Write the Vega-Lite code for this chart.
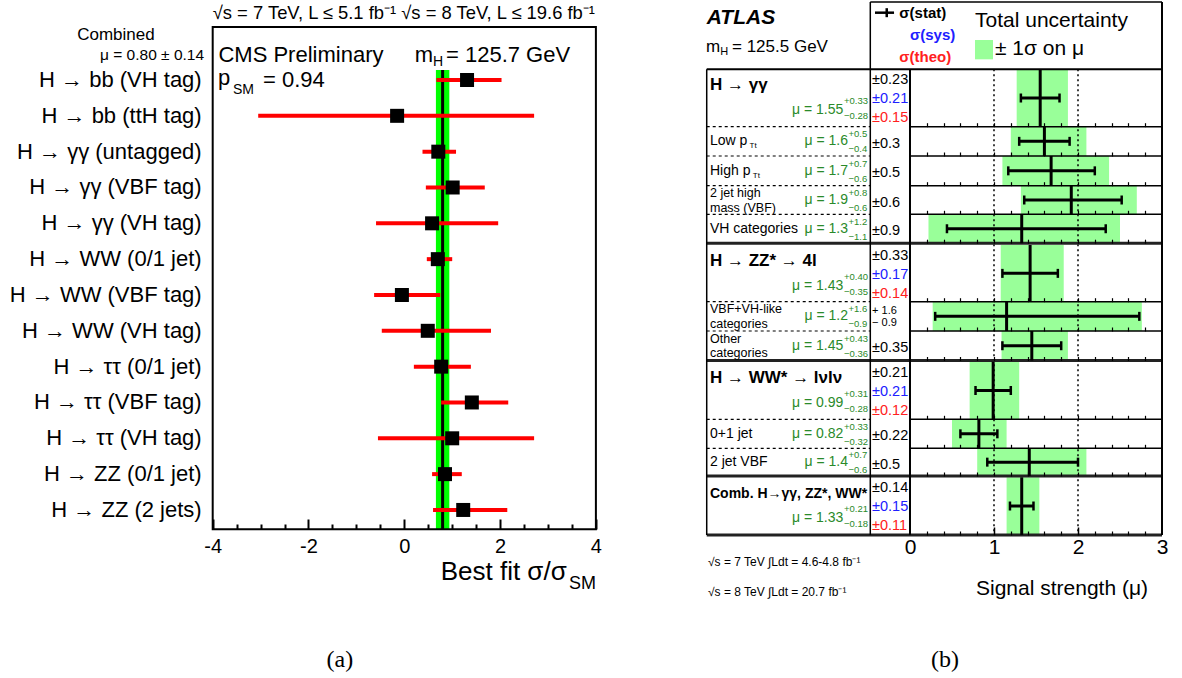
{
"$schema":"https://vega.github.io/schema/vega-lite/v6.json",
"width":1182,"height":678,
"autosize":{"type":"fit","contains":"padding"},
"padding":0,
"background":"white",
"config":{"view":{"stroke":null},"font":"Liberation Sans","text":{"font":"Liberation Sans","baseline":"middle","color":"black"}},
"datasets":{
"one":[{}],
"cms":[
{"i":0,"name":"H → bb (VH tag)","mu":1.31,"lo":0.67,"hi":2.03},
{"i":1,"name":"H → bb (ttH tag)","mu":-0.15,"lo":-3.05,"hi":2.71},
{"i":2,"name":"H → γγ (untagged)","mu":0.71,"lo":0.38,"hi":1.08},
{"i":3,"name":"H → γγ (VBF tag)","mu":1.01,"lo":0.45,"hi":1.68},
{"i":4,"name":"H → γγ (VH tag)","mu":0.58,"lo":-0.59,"hi":1.96},
{"i":5,"name":"H → WW (0/1 jet)","mu":0.7,"lo":0.47,"hi":1.0},
{"i":6,"name":"H → WW (VBF tag)","mu":-0.05,"lo":-0.63,"hi":0.75},
{"i":7,"name":"H → WW (VH tag)","mu":0.49,"lo":-0.47,"hi":1.81},
{"i":8,"name":"H → ττ (0/1 jet)","mu":0.77,"lo":0.2,"hi":1.39},
{"i":9,"name":"H → ττ (VBF tag)","mu":1.41,"lo":0.77,"hi":2.17},
{"i":10,"name":"H → ττ (VH tag)","mu":1.0,"lo":-0.55,"hi":2.71},
{"i":11,"name":"H → ZZ (0/1 jet)","mu":0.85,"lo":0.58,"hi":1.2},
{"i":12,"name":"H → ZZ (2 jets)","mu":1.23,"lo":0.6,"hi":2.15}
],
"atlas":[
{"id":"yy","kind":"main","sep":false,"top":2.365,"bot":4.324,"mid":3.345,"mu":1.55,"tlo":1.27,"thi":1.88,"slo":1.32,"shi":1.78,"lab1":"H → γγ","mutxt":"μ = 1.55","up":"+0.33","dn":"−0.28","stat":"±0.23","sys":"±0.21","theo":"±0.15"},
{"id":"yy_low","kind":"sub","sep":false,"top":4.324,"bot":5.324,"mid":4.824,"mu":1.6,"tlo":1.2,"thi":2.1,"slo":1.3,"shi":1.9,"lab1":"Low p","lsub":"Tt","mutxt":"μ = 1.6","up":"+0.5","dn":"−0.4","stat":"±0.3"},
{"id":"yy_high","kind":"sub","sep":false,"top":5.324,"bot":6.338,"mid":5.831,"mu":1.68,"tlo":1.1,"thi":2.37,"slo":1.17,"shi":2.2,"lab1":"High p","lsub":"Tt","mutxt":"μ = 1.7","up":"+0.7","dn":"−0.6","stat":"±0.5"},
{"id":"yy_vbf","kind":"sub","sep":false,"top":6.338,"bot":7.314,"mid":6.826,"mu":1.92,"tlo":1.32,"thi":2.7,"slo":1.36,"shi":2.52,"lab1":"2 jet high","lab2":"mass (VBF)","mutxt":"μ = 1.9","up":"+0.8","dn":"−0.6","stat":"±0.6"},
{"id":"yy_vh","kind":"sub","sep":true,"top":7.314,"bot":8.3,"mid":7.807,"mu":1.33,"tlo":0.22,"thi":2.5,"slo":0.44,"shi":2.33,"lab1":"VH categories","mutxt":"μ = 1.3","up":"+1.2","dn":"−1.1","stat":"±0.9"},
{"id":"zz","kind":"main","sep":false,"top":8.362,"bot":10.297,"mid":9.33,"mu":1.43,"tlo":1.08,"thi":1.83,"slo":1.1,"shi":1.76,"lab1":"H → ZZ* → 4l","mutxt":"μ = 1.43","up":"+0.40","dn":"−0.35","stat":"±0.33","sys":"±0.17","theo":"±0.14"},
{"id":"zz_vbf","kind":"sub","sep":false,"top":10.297,"bot":11.297,"mid":10.797,"mu":1.15,"tlo":0.27,"thi":2.76,"slo":0.3,"shi":2.73,"lab1":"VBF+VH-like","lab2":"categories","mutxt":"μ = 1.2","up":"+1.6","dn":"−0.9","statup":"+ 1.6","statdn":"− 0.9"},
{"id":"zz_other","kind":"sub","sep":true,"top":11.297,"bot":12.304,"mid":11.8,"mu":1.45,"tlo":1.09,"thi":1.88,"slo":1.1,"shi":1.8,"lab1":"Other","lab2":"categories","mutxt":"μ = 1.45","up":"+0.43","dn":"−0.36","stat":"±0.35"},
{"id":"ww","kind":"main","sep":false,"top":12.345,"bot":14.311,"mid":13.328,"mu":0.99,"tlo":0.71,"thi":1.3,"slo":0.78,"shi":1.2,"lab1":"H → WW* → lνlν","mutxt":"μ = 0.99","up":"+0.31","dn":"−0.28","stat":"±0.21","sys":"±0.21","theo":"±0.12"},
{"id":"ww_01","kind":"sub","sep":false,"top":14.311,"bot":15.3,"mid":14.806,"mu":0.82,"tlo":0.5,"thi":1.15,"slo":0.6,"shi":1.04,"lab1":"0+1 jet","mutxt":"μ = 0.82","up":"+0.33","dn":"−0.32","stat":"±0.22"},
{"id":"ww_vbf","kind":"sub","sep":true,"top":15.3,"bot":16.246,"mid":15.773,"mu":1.42,"tlo":0.8,"thi":2.1,"slo":0.92,"shi":2.0,"lab1":"2 jet VBF","mutxt":"μ = 1.4","up":"+0.7","dn":"−0.6","stat":"±0.5"},
{"id":"comb","kind":"main","sep":true,"top":16.29,"bot":18.259,"mid":17.27,"mu":1.33,"tlo":1.15,"thi":1.54,"slo":1.19,"shi":1.47,"lab1":"Comb. H→γγ, ZZ*, WW*","mutxt":"μ = 1.33","up":"+0.21","dn":"−0.18","stat":"±0.14","sys":"±0.15","theo":"±0.11"}
]
},
"layer":[
{"layer":[
{"data":{"name":"one"},"mark":{"type":"rect","color":"#00ff00"},"encoding":{
"x":{"datum":0.66,"type":"quantitative","scale":{"domain":[-8.4405,16.236],"nice":false,"zero":false},"axis":null},"x2":{"datum":0.94},
"y":{"datum":-0.28,"type":"quantitative","scale":{"domain":[-2.2328,16.69],"nice":false,"zero":false,"reverse":true},"axis":null},"y2":{"datum":12.539}}},
{"data":{"name":"one"},"mark":{"type":"rule","color":"black","strokeWidth":3},"encoding":{
"x":{"datum":0.8,"type":"quantitative","scale":{"domain":[-8.4405,16.236],"nice":false,"zero":false},"axis":null},
"y":{"datum":-0.28,"type":"quantitative","scale":{"domain":[-2.2328,16.69],"nice":false,"zero":false,"reverse":true},"axis":null},"y2":{"datum":12.539}}},
{"data":{"name":"cms"},"mark":{"type":"rule","color":"#ff0000","strokeWidth":4},"encoding":{
"x":{"field":"lo","type":"quantitative","scale":{"domain":[-8.4405,16.236],"nice":false,"zero":false},"axis":null},
"x2":{"field":"hi"},
"y":{"field":"i","type":"quantitative","scale":{"domain":[-2.2328,16.69],"nice":false,"zero":false,"reverse":true},"axis":null}}},
{"data":{"name":"cms"},"mark":{"type":"point","shape":"square","filled":true,"color":"black","size":196,"opacity":1},"encoding":{
"x":{"field":"mu","type":"quantitative","scale":{"domain":[-8.4405,16.236],"nice":false,"zero":false},"axis":null},
"y":{"field":"i","type":"quantitative","scale":{"domain":[-2.2328,16.69],"nice":false,"zero":false,"reverse":true},"axis":null}}},
{"data":{"name":"one"},"mark":{"type":"rect","filled":false,"color":"black","strokeWidth":2},"encoding":{
"x":{"datum":-4,"type":"quantitative","scale":{"domain":[-8.4405,16.236],"nice":false,"zero":false},"axis":null},"x2":{"datum":4},
"y":{"datum":-1.479,"type":"quantitative","scale":{"domain":[-2.2328,16.69],"nice":false,"zero":false,"reverse":true},"axis":null},"y2":{"datum":12.539}}},
{"data":{"name":"cms"},"mark":{"type":"text","align":"right","fontSize":22},"encoding":{
"x":{"datum":-4.23,"type":"quantitative","scale":{"domain":[-8.4405,16.236],"nice":false,"zero":false},"axis":null},
"y":{"field":"i","type":"quantitative","scale":{"domain":[-2.2328,16.69],"nice":false,"zero":false,"reverse":true},"axis":null},
"text":{"field":"name"}}},
{"data":{"name":"one"},"mark":{"type":"text","align":"center","fontSize":17},"encoding":{
"x":{"datum":-6.02,"type":"quantitative","scale":{"domain":[-8.4405,16.236],"nice":false,"zero":false},"axis":null},
"y":{"datum":-1.256,"type":"quantitative","scale":{"domain":[-2.2328,16.69],"nice":false,"zero":false,"reverse":true},"axis":null},
"text":{"value":"Combined"}}},
{"data":{"name":"one"},"mark":{"type":"text","align":"right","fontSize":15.5},"encoding":{
"x":{"datum":-4.18,"type":"quantitative","scale":{"domain":[-8.4405,16.236],"nice":false,"zero":false},"axis":null},
"y":{"datum":-0.698,"type":"quantitative","scale":{"domain":[-2.2328,16.69],"nice":false,"zero":false,"reverse":true},"axis":null},
"text":{"value":"μ = 0.80 ± 0.14"}}},
{"data":{"name":"one"},"mark":{"type":"text","align":"left","fontSize":22},"encoding":{
"x":{"datum":-3.88,"type":"quantitative","scale":{"domain":[-8.4405,16.236],"nice":false,"zero":false},"axis":null},
"y":{"datum":-0.7,"type":"quantitative","scale":{"domain":[-2.2328,16.69],"nice":false,"zero":false,"reverse":true},"axis":null},
"text":{"value":"CMS Preliminary"}}},
{"data":{"name":"one"},"mark":{"type":"text","align":"left","fontSize":22},"encoding":{
"x":{"datum":0.22,"type":"quantitative","scale":{"domain":[-8.4405,16.236],"nice":false,"zero":false},"axis":null},
"y":{"datum":-0.7,"type":"quantitative","scale":{"domain":[-2.2328,16.69],"nice":false,"zero":false,"reverse":true},"axis":null},
"text":{"value":"m"}}},
{"data":{"name":"one"},"mark":{"type":"text","align":"left","fontSize":14},"encoding":{
"x":{"datum":0.6,"type":"quantitative","scale":{"domain":[-8.4405,16.236],"nice":false,"zero":false},"axis":null},
"y":{"datum":-0.49,"type":"quantitative","scale":{"domain":[-2.2328,16.69],"nice":false,"zero":false,"reverse":true},"axis":null},
"text":{"value":"H"}}},
{"data":{"name":"one"},"mark":{"type":"text","align":"left","fontSize":22},"encoding":{
"x":{"datum":0.87,"type":"quantitative","scale":{"domain":[-8.4405,16.236],"nice":false,"zero":false},"axis":null},
"y":{"datum":-0.7,"type":"quantitative","scale":{"domain":[-2.2328,16.69],"nice":false,"zero":false,"reverse":true},"axis":null},
"text":{"value":"= 125.7 GeV"}}},
{"data":{"name":"one"},"mark":{"type":"text","align":"left","fontSize":22},"encoding":{
"x":{"datum":-3.89,"type":"quantitative","scale":{"domain":[-8.4405,16.236],"nice":false,"zero":false},"axis":null},
"y":{"datum":-0.05,"type":"quantitative","scale":{"domain":[-2.2328,16.69],"nice":false,"zero":false,"reverse":true},"axis":null},
"text":{"value":"p"}}},
{"data":{"name":"one"},"mark":{"type":"text","align":"left","fontSize":14},"encoding":{
"x":{"datum":-3.576,"type":"quantitative","scale":{"domain":[-8.4405,16.236],"nice":false,"zero":false},"axis":null},
"y":{"datum":0.28,"type":"quantitative","scale":{"domain":[-2.2328,16.69],"nice":false,"zero":false,"reverse":true},"axis":null},
"text":{"value":"SM"}}},
{"data":{"name":"one"},"mark":{"type":"text","align":"left","fontSize":22},"encoding":{
"x":{"datum":-2.95,"type":"quantitative","scale":{"domain":[-8.4405,16.236],"nice":false,"zero":false},"axis":null},
"y":{"datum":0,"type":"quantitative","scale":{"domain":[-2.2328,16.69],"nice":false,"zero":false,"reverse":true},"axis":null},
"text":{"value":"= 0.94"}}},
{"data":{"name":"one"},"mark":{"type":"text","align":"left","fontSize":18.4},"encoding":{
"x":{"datum":-4,"type":"quantitative","scale":{"domain":[-8.4405,16.236],"nice":false,"zero":false},"axis":null},
"y":{"datum":-1.87,"type":"quantitative","scale":{"domain":[-2.2328,16.69],"nice":false,"zero":false,"reverse":true},"axis":null},
"text":{"value":"√s = 7 TeV, L ≤ 5.1 fb⁻¹  √s = 8 TeV, L ≤ 19.6 fb⁻¹"}}},
{"data":{"name":"one"},"mark":{"type":"text","align":"right","fontSize":26},"encoding":{
"x":{"datum":3.39,"type":"quantitative","scale":{"domain":[-8.4405,16.236],"nice":false,"zero":false},"axis":null},
"y":{"datum":13.74,"type":"quantitative","scale":{"domain":[-2.2328,16.69],"nice":false,"zero":false,"reverse":true},"axis":null},
"text":{"value":"Best fit σ/σ"}}},
{"data":{"name":"one"},"mark":{"type":"text","align":"right","fontSize":18},"encoding":{
"x":{"datum":4.0,"type":"quantitative","scale":{"domain":[-8.4405,16.236],"nice":false,"zero":false},"axis":null},
"y":{"datum":14.06,"type":"quantitative","scale":{"domain":[-2.2328,16.69],"nice":false,"zero":false,"reverse":true},"axis":null},
"text":{"value":"SM"}}},
{"data":{"name":"one"},"mark":{"type":"text","align":"center","fontSize":24,"font":"Liberation Serif"},"encoding":{
"x":{"datum":-1.344,"type":"quantitative","scale":{"domain":[-8.4405,16.236],"nice":false,"zero":false},"axis":null},
"y":{"datum":16.19,"type":"quantitative","scale":{"domain":[-2.2328,16.69],"nice":false,"zero":false,"reverse":true},"axis":null},
"text":{"value":"(a)"}}}
]},
{"data":{"name":"one"},"mark":{"type":"point","opacity":0},"encoding":{"x":{"datum":0,"type":"quantitative","scale":{"domain":[-8.4405,16.236],"nice":false,"zero":false},
"axis":{"orient":"bottom","offset":-149,"zindex":1,"values":[-4,-2,0,2,4],"tickSize":-10,"tickWidth":2,"tickColor":"black","domain":false,"grid":false,"labels":false,"title":null}}}},
{"data":{"name":"one"},"mark":{"type":"point","opacity":0},"encoding":{"x":{"datum":0,"type":"quantitative","scale":{"domain":[-8.4405,16.236],"nice":false,"zero":false},
"axis":{"orient":"bottom","offset":-149,"zindex":1,"values":[-3.5,-3,-2.5,-1.5,-1,-0.5,0.5,1,1.5,2.5,3,3.5],"tickSize":-5,"tickWidth":2,"tickColor":"black","domain":false,"grid":false,"labels":false,"title":null}}}},
{"data":{"name":"one"},"mark":{"type":"point","opacity":0},"encoding":{"x":{"datum":0,"type":"quantitative","scale":{"domain":[-8.4405,16.236],"nice":false,"zero":false},
"axis":{"orient":"bottom","offset":-149,"zindex":1,"values":[-4,-2,0,2,4],"ticks":false,"domain":false,"grid":false,"labelExpr":"toString(datum.value)","labelFontSize":20,"labelFont":"Liberation Sans","labelColor":"black","labelPadding":17,"labelBaseline":"middle","labelOverlap":false,"labelFlush":false,"title":null}}}},
{"layer":[
{"data":{"name":"atlas"},"mark":{"type":"rect","color":"#99ff99"},"encoding":{
"x":{"field":"tlo","type":"quantitative","scale":{"domain":[-10.8333,3.2381],"nice":false,"zero":false},"axis":null},"x2":{"field":"thi"},
"y":{"field":"top","type":"quantitative","scale":{"domain":[0,23.1399],"nice":false,"zero":false,"reverse":true},"axis":null},"y2":{"field":"bot"}}},
{"data":{"name":"one"},"mark":{"type":"rect","color":"#99ff99"},"encoding":{
"x":{"datum":0.774,"type":"quantitative","scale":{"domain":[-10.8333,3.2381],"nice":false,"zero":false},"axis":null},"x2":{"datum":0.988},
"y":{"datum":1.365,"type":"quantitative","scale":{"domain":[0,23.1399],"nice":false,"zero":false,"reverse":true},"axis":null},"y2":{"datum":2.025}}},
{"data":{"values":[{"ref":1},{"ref":2}]},"mark":{"type":"rule","color":"black","strokeWidth":1.5,"strokeDash":[2,3]},"encoding":{
"x":{"field":"ref","type":"quantitative","scale":{"domain":[-10.8333,3.2381],"nice":false,"zero":false},"axis":null},
"y":{"datum":2.365,"type":"quantitative","scale":{"domain":[0,23.1399],"nice":false,"zero":false,"reverse":true},"axis":null},"y2":{"datum":18.259}}},
{"data":{"name":"atlas"},"mark":{"type":"rule","color":"black","strokeWidth":1.5},"encoding":{
"x":{"datum":0,"type":"quantitative","scale":{"domain":[-10.8333,3.2381],"nice":false,"zero":false},"axis":null},"x2":{"datum":3},
"y":{"field":"bot","type":"quantitative","scale":{"domain":[0,23.1399],"nice":false,"zero":false,"reverse":true},"axis":null}}},
{"data":{"name":"atlas"},"transform":[{"filter":"!datum.sep"}],"mark":{"type":"rule","color":"black","strokeWidth":1.2,"strokeDash":[3,3]},"encoding":{
"x":{"datum":-2.42,"type":"quantitative","scale":{"domain":[-10.8333,3.2381],"nice":false,"zero":false},"axis":null},"x2":{"datum":-0.4726},
"y":{"field":"bot","type":"quantitative","scale":{"domain":[0,23.1399],"nice":false,"zero":false,"reverse":true},"axis":null}}},
{"data":{"name":"atlas"},"transform":[{"filter":"datum.sep"}],"mark":{"type":"rule","color":"#222222","strokeWidth":3},"encoding":{
"x":{"datum":-2.42,"type":"quantitative","scale":{"domain":[-10.8333,3.2381],"nice":false,"zero":false},"axis":null},"x2":{"datum":3},
"y":{"field":"bot","type":"quantitative","scale":{"domain":[0,23.1399],"nice":false,"zero":false,"reverse":true},"axis":null}}},
{"data":{"name":"one"},"mark":{"type":"rule","color":"black","strokeWidth":1.5},"encoding":{
"x":{"datum":-0.4726,"type":"quantitative","scale":{"domain":[-10.8333,3.2381],"nice":false,"zero":false},"axis":null},"x2":{"datum":3},
"y":{"datum":0.068,"type":"quantitative","scale":{"domain":[0,23.1399],"nice":false,"zero":false,"reverse":true},"axis":null}}},
{"data":{"name":"one"},"mark":{"type":"rule","color":"black","strokeWidth":2},"encoding":{
"x":{"datum":-2.42,"type":"quantitative","scale":{"domain":[-10.8333,3.2381],"nice":false,"zero":false},"axis":null},"x2":{"datum":3},
"y":{"datum":2.365,"type":"quantitative","scale":{"domain":[0,23.1399],"nice":false,"zero":false,"reverse":true},"axis":null}}},
{"data":{"name":"one"},"mark":{"type":"rule","color":"black","strokeWidth":1.5},"encoding":{
"x":{"datum":-2.42,"type":"quantitative","scale":{"domain":[-10.8333,3.2381],"nice":false,"zero":false},"axis":null},
"y":{"datum":2.365,"type":"quantitative","scale":{"domain":[0,23.1399],"nice":false,"zero":false,"reverse":true},"axis":null},"y2":{"datum":18.259}}},
{"data":{"name":"one"},"mark":{"type":"rule","color":"black","strokeWidth":1.5},"encoding":{
"x":{"datum":-0.4726,"type":"quantitative","scale":{"domain":[-10.8333,3.2381],"nice":false,"zero":false},"axis":null},
"y":{"datum":0.068,"type":"quantitative","scale":{"domain":[0,23.1399],"nice":false,"zero":false,"reverse":true},"axis":null},"y2":{"datum":18.259}}},
{"data":{"name":"one"},"mark":{"type":"rule","color":"black","strokeWidth":2},"encoding":{
"x":{"datum":0,"type":"quantitative","scale":{"domain":[-10.8333,3.2381],"nice":false,"zero":false},"axis":null},
"y":{"datum":2.365,"type":"quantitative","scale":{"domain":[0,23.1399],"nice":false,"zero":false,"reverse":true},"axis":null},"y2":{"datum":18.259}}},
{"data":{"name":"one"},"mark":{"type":"rule","color":"black","strokeWidth":2},"encoding":{
"x":{"datum":3,"type":"quantitative","scale":{"domain":[-10.8333,3.2381],"nice":false,"zero":false},"axis":null},
"y":{"datum":0.068,"type":"quantitative","scale":{"domain":[0,23.1399],"nice":false,"zero":false,"reverse":true},"axis":null},"y2":{"datum":18.259}}},
{"data":{"name":"atlas"},"mark":{"type":"rule","color":"black","strokeWidth":3},"encoding":{
"x":{"field":"mu","type":"quantitative","scale":{"domain":[-10.8333,3.2381],"nice":false,"zero":false},"axis":null},
"y":{"field":"top","type":"quantitative","scale":{"domain":[0,23.1399],"nice":false,"zero":false,"reverse":true},"axis":null},"y2":{"field":"bot"}}},
{"data":{"name":"atlas"},"mark":{"type":"rule","color":"black","strokeWidth":3},"encoding":{
"x":{"field":"slo","type":"quantitative","scale":{"domain":[-10.8333,3.2381],"nice":false,"zero":false},"axis":null},"x2":{"field":"shi"},
"y":{"field":"mid","type":"quantitative","scale":{"domain":[0,23.1399],"nice":false,"zero":false,"reverse":true},"axis":null}}},
{"data":{"name":"atlas"},"mark":{"type":"tick","orient":"vertical","color":"black","size":9,"thickness":2.5,"opacity":1},"encoding":{
"x":{"field":"slo","type":"quantitative","scale":{"domain":[-10.8333,3.2381],"nice":false,"zero":false},"axis":null},
"y":{"field":"mid","type":"quantitative","scale":{"domain":[0,23.1399],"nice":false,"zero":false,"reverse":true},"axis":null}}},
{"data":{"name":"atlas"},"mark":{"type":"tick","orient":"vertical","color":"black","size":9,"thickness":2.5,"opacity":1},"encoding":{
"x":{"field":"shi","type":"quantitative","scale":{"domain":[-10.8333,3.2381],"nice":false,"zero":false},"axis":null},
"y":{"field":"mid","type":"quantitative","scale":{"domain":[0,23.1399],"nice":false,"zero":false,"reverse":true},"axis":null}}},
{"data":{"name":"one"},"mark":{"type":"rule","color":"black","strokeWidth":2.5},"encoding":{
"x":{"datum":-0.4167,"type":"quantitative","scale":{"domain":[-10.8333,3.2381],"nice":false,"zero":false},"axis":null},"x2":{"datum":-0.19},
"y":{"datum":0.433,"type":"quantitative","scale":{"domain":[0,23.1399],"nice":false,"zero":false,"reverse":true},"axis":null}}},
{"data":{"name":"one"},"mark":{"type":"tick","orient":"vertical","color":"black","size":9,"thickness":2.5,"opacity":1},"encoding":{
"x":{"datum":-0.277,"type":"quantitative","scale":{"domain":[-10.8333,3.2381],"nice":false,"zero":false},"axis":null},
"y":{"datum":0.433,"type":"quantitative","scale":{"domain":[0,23.1399],"nice":false,"zero":false,"reverse":true},"axis":null}}},
{"data":{"name":"atlas"},"transform":[{"filter":"datum.kind=='main' && datum.id!='comb'"}],"mark":{"type":"text","align":"left","fontSize":17,"fontWeight":"bold","dy":16},"encoding":{
"x":{"datum":-2.381,"type":"quantitative","scale":{"domain":[-10.8333,3.2381],"nice":false,"zero":false},"axis":null},
"y":{"field":"top","type":"quantitative","scale":{"domain":[0,23.1399],"nice":false,"zero":false,"reverse":true},"axis":null},"text":{"field":"lab1"}}},
{"data":{"name":"atlas"},"transform":[{"filter":"datum.id=='comb'"}],"mark":{"type":"text","align":"left","fontSize":14,"fontWeight":"bold","dy":17},"encoding":{
"x":{"datum":-2.381,"type":"quantitative","scale":{"domain":[-10.8333,3.2381],"nice":false,"zero":false},"axis":null},
"y":{"field":"top","type":"quantitative","scale":{"domain":[0,23.1399],"nice":false,"zero":false,"reverse":true},"axis":null},"text":{"field":"lab1"}}},
{"data":{"name":"atlas"},"transform":[{"filter":"datum.kind=='sub' && !datum.lab2"}],"mark":{"type":"text","align":"left","fontSize":14},"encoding":{
"x":{"datum":-2.381,"type":"quantitative","scale":{"domain":[-10.8333,3.2381],"nice":false,"zero":false},"axis":null},
"y":{"field":"mid","type":"quantitative","scale":{"domain":[0,23.1399],"nice":false,"zero":false,"reverse":true},"axis":null},"text":{"field":"lab1"}}},
{"data":{"name":"atlas"},"transform":[{"filter":"datum.lab2"}],"mark":{"type":"text","align":"left","fontSize":12.5,"dy":-7},"encoding":{
"x":{"datum":-2.381,"type":"quantitative","scale":{"domain":[-10.8333,3.2381],"nice":false,"zero":false},"axis":null},
"y":{"field":"mid","type":"quantitative","scale":{"domain":[0,23.1399],"nice":false,"zero":false,"reverse":true},"axis":null},"text":{"field":"lab1"}}},
{"data":{"name":"atlas"},"transform":[{"filter":"datum.lab2"}],"mark":{"type":"text","align":"left","fontSize":12.5,"dy":7.5},"encoding":{
"x":{"datum":-2.381,"type":"quantitative","scale":{"domain":[-10.8333,3.2381],"nice":false,"zero":false},"axis":null},
"y":{"field":"mid","type":"quantitative","scale":{"domain":[0,23.1399],"nice":false,"zero":false,"reverse":true},"axis":null},"text":{"field":"lab2"}}},
{"data":{"name":"atlas"},"transform":[{"filter":"datum.id=='yy_low'"}],"mark":{"type":"text","align":"left","fontSize":8,"dy":5},"encoding":{
"x":{"datum":-1.91,"type":"quantitative","scale":{"domain":[-10.8333,3.2381],"nice":false,"zero":false},"axis":null},
"y":{"field":"mid","type":"quantitative","scale":{"domain":[0,23.1399],"nice":false,"zero":false,"reverse":true},"axis":null},"text":{"field":"lsub"}}},
{"data":{"name":"atlas"},"transform":[{"filter":"datum.id=='yy_high'"}],"mark":{"type":"text","align":"left","fontSize":8,"dy":5},"encoding":{
"x":{"datum":-1.872,"type":"quantitative","scale":{"domain":[-10.8333,3.2381],"nice":false,"zero":false},"axis":null},
"y":{"field":"mid","type":"quantitative","scale":{"domain":[0,23.1399],"nice":false,"zero":false,"reverse":true},"axis":null},"text":{"field":"lsub"}}},
{"data":{"name":"atlas"},"transform":[{"filter":"datum.kind=='main'"}],"mark":{"type":"text","align":"right","fontSize":14,"color":"#2a8a2a","dy":41},"encoding":{
"x":{"datum":-0.794,"type":"quantitative","scale":{"domain":[-10.8333,3.2381],"nice":false,"zero":false},"axis":null},
"y":{"field":"top","type":"quantitative","scale":{"domain":[0,23.1399],"nice":false,"zero":false,"reverse":true},"axis":null},"text":{"field":"mutxt"}}},
{"data":{"name":"atlas"},"transform":[{"filter":"datum.kind=='main'"}],"mark":{"type":"text","align":"left","fontSize":9.5,"color":"#2a8a2a","dy":32},"encoding":{
"x":{"datum":-0.786,"type":"quantitative","scale":{"domain":[-10.8333,3.2381],"nice":false,"zero":false},"axis":null},
"y":{"field":"top","type":"quantitative","scale":{"domain":[0,23.1399],"nice":false,"zero":false,"reverse":true},"axis":null},"text":{"field":"up"}}},
{"data":{"name":"atlas"},"transform":[{"filter":"datum.kind=='main'"}],"mark":{"type":"text","align":"left","fontSize":9.5,"color":"#2a8a2a","dy":47},"encoding":{
"x":{"datum":-0.786,"type":"quantitative","scale":{"domain":[-10.8333,3.2381],"nice":false,"zero":false},"axis":null},
"y":{"field":"top","type":"quantitative","scale":{"domain":[0,23.1399],"nice":false,"zero":false,"reverse":true},"axis":null},"text":{"field":"dn"}}},
{"data":{"name":"atlas"},"transform":[{"filter":"datum.kind=='sub' && length(datum.up)>4"}],"mark":{"type":"text","align":"right","fontSize":14,"color":"#2a8a2a"},"encoding":{
"x":{"datum":-0.794,"type":"quantitative","scale":{"domain":[-10.8333,3.2381],"nice":false,"zero":false},"axis":null},
"y":{"field":"mid","type":"quantitative","scale":{"domain":[0,23.1399],"nice":false,"zero":false,"reverse":true},"axis":null},"text":{"field":"mutxt"}}},
{"data":{"name":"atlas"},"transform":[{"filter":"datum.kind=='sub' && length(datum.up)>4"}],"mark":{"type":"text","align":"left","fontSize":9.5,"color":"#2a8a2a","dy":-7},"encoding":{
"x":{"datum":-0.786,"type":"quantitative","scale":{"domain":[-10.8333,3.2381],"nice":false,"zero":false},"axis":null},
"y":{"field":"mid","type":"quantitative","scale":{"domain":[0,23.1399],"nice":false,"zero":false,"reverse":true},"axis":null},"text":{"field":"up"}}},
{"data":{"name":"atlas"},"transform":[{"filter":"datum.kind=='sub' && length(datum.up)>4"}],"mark":{"type":"text","align":"left","fontSize":9.5,"color":"#2a8a2a","dy":8},"encoding":{
"x":{"datum":-0.786,"type":"quantitative","scale":{"domain":[-10.8333,3.2381],"nice":false,"zero":false},"axis":null},
"y":{"field":"mid","type":"quantitative","scale":{"domain":[0,23.1399],"nice":false,"zero":false,"reverse":true},"axis":null},"text":{"field":"dn"}}},
{"data":{"name":"atlas"},"transform":[{"filter":"datum.kind=='sub' && length(datum.up)<=4"}],"mark":{"type":"text","align":"right","fontSize":14,"color":"#2a8a2a"},"encoding":{
"x":{"datum":-0.738,"type":"quantitative","scale":{"domain":[-10.8333,3.2381],"nice":false,"zero":false},"axis":null},
"y":{"field":"mid","type":"quantitative","scale":{"domain":[0,23.1399],"nice":false,"zero":false,"reverse":true},"axis":null},"text":{"field":"mutxt"}}},
{"data":{"name":"atlas"},"transform":[{"filter":"datum.kind=='sub' && length(datum.up)<=4"}],"mark":{"type":"text","align":"left","fontSize":9.5,"color":"#2a8a2a","dy":-7},"encoding":{
"x":{"datum":-0.733,"type":"quantitative","scale":{"domain":[-10.8333,3.2381],"nice":false,"zero":false},"axis":null},
"y":{"field":"mid","type":"quantitative","scale":{"domain":[0,23.1399],"nice":false,"zero":false,"reverse":true},"axis":null},"text":{"field":"up"}}},
{"data":{"name":"atlas"},"transform":[{"filter":"datum.kind=='sub' && length(datum.up)<=4"}],"mark":{"type":"text","align":"left","fontSize":9.5,"color":"#2a8a2a","dy":8},"encoding":{
"x":{"datum":-0.733,"type":"quantitative","scale":{"domain":[-10.8333,3.2381],"nice":false,"zero":false},"axis":null},
"y":{"field":"mid","type":"quantitative","scale":{"domain":[0,23.1399],"nice":false,"zero":false,"reverse":true},"axis":null},"text":{"field":"dn"}}},
{"data":{"name":"atlas"},"transform":[{"filter":"datum.kind=='main'"}],"mark":{"type":"text","align":"left","fontSize":14.5,"dy":11},"encoding":{
"x":{"datum":-0.452,"type":"quantitative","scale":{"domain":[-10.8333,3.2381],"nice":false,"zero":false},"axis":null},
"y":{"field":"top","type":"quantitative","scale":{"domain":[0,23.1399],"nice":false,"zero":false,"reverse":true},"axis":null},"text":{"field":"stat"}}},
{"data":{"name":"atlas"},"transform":[{"filter":"datum.kind=='main'"}],"mark":{"type":"text","align":"left","fontSize":14.5,"color":"#2020ff","dy":30},"encoding":{
"x":{"datum":-0.452,"type":"quantitative","scale":{"domain":[-10.8333,3.2381],"nice":false,"zero":false},"axis":null},
"y":{"field":"top","type":"quantitative","scale":{"domain":[0,23.1399],"nice":false,"zero":false,"reverse":true},"axis":null},"text":{"field":"sys"}}},
{"data":{"name":"atlas"},"transform":[{"filter":"datum.kind=='main'"}],"mark":{"type":"text","align":"left","fontSize":14.5,"color":"#ff2020","dy":49},"encoding":{
"x":{"datum":-0.452,"type":"quantitative","scale":{"domain":[-10.8333,3.2381],"nice":false,"zero":false},"axis":null},
"y":{"field":"top","type":"quantitative","scale":{"domain":[0,23.1399],"nice":false,"zero":false,"reverse":true},"axis":null},"text":{"field":"theo"}}},
{"data":{"name":"atlas"},"transform":[{"filter":"datum.kind=='sub' && datum.stat"}],"mark":{"type":"text","align":"left","fontSize":14.5,"dy":2.5},"encoding":{
"x":{"datum":-0.452,"type":"quantitative","scale":{"domain":[-10.8333,3.2381],"nice":false,"zero":false},"axis":null},
"y":{"field":"mid","type":"quantitative","scale":{"domain":[0,23.1399],"nice":false,"zero":false,"reverse":true},"axis":null},"text":{"field":"stat"}}},
{"data":{"name":"atlas"},"transform":[{"filter":"datum.statup"}],"mark":{"type":"text","align":"left","fontSize":11,"dy":-5},"encoding":{
"x":{"datum":-0.452,"type":"quantitative","scale":{"domain":[-10.8333,3.2381],"nice":false,"zero":false},"axis":null},
"y":{"field":"mid","type":"quantitative","scale":{"domain":[0,23.1399],"nice":false,"zero":false,"reverse":true},"axis":null},"text":{"field":"statup"}}},
{"data":{"name":"atlas"},"transform":[{"filter":"datum.statdn"}],"mark":{"type":"text","align":"left","fontSize":11,"dy":6.5},"encoding":{
"x":{"datum":-0.452,"type":"quantitative","scale":{"domain":[-10.8333,3.2381],"nice":false,"zero":false},"axis":null},
"y":{"field":"mid","type":"quantitative","scale":{"domain":[0,23.1399],"nice":false,"zero":false,"reverse":true},"axis":null},"text":{"field":"statdn"}}},
{"data":{"name":"one"},"mark":{"type":"text","align":"left","fontSize":21,"fontWeight":"bold","fontStyle":"italic"},"encoding":{
"x":{"datum":-2.42,"type":"quantitative","scale":{"domain":[-10.8333,3.2381],"nice":false,"zero":false},"axis":null},
"y":{"datum":0.625,"type":"quantitative","scale":{"domain":[0,23.1399],"nice":false,"zero":false,"reverse":true},"axis":null},"text":{"value":"ATLAS"}}},
{"data":{"name":"one"},"mark":{"type":"text","align":"left","fontSize":17},"encoding":{
"x":{"datum":-2.43,"type":"quantitative","scale":{"domain":[-10.8333,3.2381],"nice":false,"zero":false},"axis":null},
"y":{"datum":1.594,"type":"quantitative","scale":{"domain":[0,23.1399],"nice":false,"zero":false,"reverse":true},"axis":null},"text":{"value":"m"}}},
{"data":{"name":"one"},"mark":{"type":"text","align":"left","fontSize":11},"encoding":{
"x":{"datum":-2.26,"type":"quantitative","scale":{"domain":[-10.8333,3.2381],"nice":false,"zero":false},"axis":null},
"y":{"datum":1.79,"type":"quantitative","scale":{"domain":[0,23.1399],"nice":false,"zero":false,"reverse":true},"axis":null},"text":{"value":"H"}}},
{"data":{"name":"one"},"mark":{"type":"text","align":"left","fontSize":17},"encoding":{
"x":{"datum":-2.119,"type":"quantitative","scale":{"domain":[-10.8333,3.2381],"nice":false,"zero":false},"axis":null},
"y":{"datum":1.594,"type":"quantitative","scale":{"domain":[0,23.1399],"nice":false,"zero":false,"reverse":true},"axis":null},"text":{"value":"= 125.5 GeV"}}},
{"data":{"name":"one"},"mark":{"type":"text","align":"left","fontSize":15,"fontWeight":"bold"},"encoding":{
"x":{"datum":-0.127,"type":"quantitative","scale":{"domain":[-10.8333,3.2381],"nice":false,"zero":false},"axis":null},
"y":{"datum":0.433,"type":"quantitative","scale":{"domain":[0,23.1399],"nice":false,"zero":false,"reverse":true},"axis":null},"text":{"value":"σ(stat)"}}},
{"data":{"name":"one"},"mark":{"type":"text","align":"left","fontSize":15,"fontWeight":"bold","color":"#2020ff"},"encoding":{
"x":{"datum":0.0,"type":"quantitative","scale":{"domain":[-10.8333,3.2381],"nice":false,"zero":false},"axis":null},
"y":{"datum":1.195,"type":"quantitative","scale":{"domain":[0,23.1399],"nice":false,"zero":false,"reverse":true},"axis":null},"text":{"value":"σ(sys)"}}},
{"data":{"name":"one"},"mark":{"type":"text","align":"left","fontSize":15,"fontWeight":"bold","color":"#ff2020"},"encoding":{
"x":{"datum":-0.127,"type":"quantitative","scale":{"domain":[-10.8333,3.2381],"nice":false,"zero":false},"axis":null},
"y":{"datum":1.934,"type":"quantitative","scale":{"domain":[0,23.1399],"nice":false,"zero":false,"reverse":true},"axis":null},"text":{"value":"σ(theo)"}}},
{"data":{"name":"one"},"mark":{"type":"text","align":"left","fontSize":21},"encoding":{
"x":{"datum":0.774,"type":"quantitative","scale":{"domain":[-10.8333,3.2381],"nice":false,"zero":false},"axis":null},
"y":{"datum":0.706,"type":"quantitative","scale":{"domain":[0,23.1399],"nice":false,"zero":false,"reverse":true},"axis":null},"text":{"value":"Total uncertainty"}}},
{"data":{"name":"one"},"mark":{"type":"text","align":"left","fontSize":21},"encoding":{
"x":{"datum":1.012,"type":"quantitative","scale":{"domain":[-10.8333,3.2381],"nice":false,"zero":false},"axis":null},
"y":{"datum":1.684,"type":"quantitative","scale":{"domain":[0,23.1399],"nice":false,"zero":false,"reverse":true},"axis":null},"text":{"value":"± 1σ on μ"}}},
{"data":{"name":"one"},"mark":{"type":"text","align":"left","fontSize":12},"encoding":{
"x":{"datum":-2.405,"type":"quantitative","scale":{"domain":[-10.8333,3.2381],"nice":false,"zero":false},"axis":null},
"y":{"datum":19.17,"type":"quantitative","scale":{"domain":[0,23.1399],"nice":false,"zero":false,"reverse":true},"axis":null},"text":{"value":"√s = 7 TeV ∫Ldt = 4.6-4.8 fb⁻¹"}}},
{"data":{"name":"one"},"mark":{"type":"text","align":"left","fontSize":12},"encoding":{
"x":{"datum":-2.405,"type":"quantitative","scale":{"domain":[-10.8333,3.2381],"nice":false,"zero":false},"axis":null},
"y":{"datum":20.19,"type":"quantitative","scale":{"domain":[0,23.1399],"nice":false,"zero":false,"reverse":true},"axis":null},"text":{"value":"√s = 8 TeV ∫Ldt = 20.7 fb⁻¹"}}},
{"data":{"name":"one"},"mark":{"type":"text","align":"left","fontSize":21},"encoding":{
"x":{"datum":0.786,"type":"quantitative","scale":{"domain":[-10.8333,3.2381],"nice":false,"zero":false},"axis":null},
"y":{"datum":20.11,"type":"quantitative","scale":{"domain":[0,23.1399],"nice":false,"zero":false,"reverse":true},"axis":null},"text":{"value":"Signal strength (μ)"}}},
{"data":{"name":"one"},"mark":{"type":"text","align":"center","fontSize":24,"font":"Liberation Serif"},"encoding":{
"x":{"datum":0.417,"type":"quantitative","scale":{"domain":[-10.8333,3.2381],"nice":false,"zero":false},"axis":null},
"y":{"datum":22.53,"type":"quantitative","scale":{"domain":[0,23.1399],"nice":false,"zero":false,"reverse":true},"axis":null},"text":{"value":"(b)"}}}
]},
{"data":{"name":"one"},"mark":{"type":"point","opacity":0},"encoding":{"x":{"datum":0,"type":"quantitative","scale":{"domain":[-10.8333,3.2381],"nice":false,"zero":false},
"axis":{"orient":"bottom","offset":-143,"zindex":1,"values":[1,2],"tickSize":-8,"tickWidth":1.5,"tickColor":"black","domain":false,"grid":false,"labels":false,"title":null}}}},
{"data":{"name":"one"},"mark":{"type":"point","opacity":0},"encoding":{"x":{"datum":0,"type":"quantitative","scale":{"domain":[-10.8333,3.2381],"nice":false,"zero":false},
"axis":{"orient":"bottom","offset":-143,"zindex":1,"values":[0.2,0.4,0.6,0.8,1.2,1.4,1.6,1.8,2.2,2.4,2.6,2.8],"tickSize":-4,"tickWidth":1.2,"tickColor":"black","domain":false,"grid":false,"labels":false,"title":null}}}},
{"data":{"name":"one"},"mark":{"type":"point","opacity":0},"encoding":{"x":{"datum":0,"type":"quantitative","scale":{"domain":[-10.8333,3.2381],"nice":false,"zero":false},
"axis":{"orient":"bottom","offset":-143,"zindex":1,"values":[0,1,2,3],"ticks":false,"domain":false,"grid":false,"labelExpr":"toString(datum.value)","labelFontSize":21,"labelFont":"Liberation Sans","labelColor":"black","labelPadding":12,"labelBaseline":"middle","labelOverlap":false,"labelFlush":false,"title":null}}}},
{"data":{"name":"one"},"mark":{"type":"point","opacity":0},"encoding":{"x":{"datum":0,"type":"quantitative","scale":{"domain":[-10.8333,3.2381],"nice":false,"zero":false},
"axis":{"orient":"bottom","offset":-551.3,"zindex":1,"values":[0.2,0.4,0.6,0.8,1,1.2,1.4,1.6,1.8,2,2.2,2.4,2.6,2.8],"tickSize":-4,"tickWidth":1.2,"tickColor":"black","domain":false,"grid":false,"labels":false,"title":null}}}},
{"data":{"name":"one"},"mark":{"type":"point","opacity":0},"encoding":{"x":{"datum":0,"type":"quantitative","scale":{"domain":[-10.8333,3.2381],"nice":false,"zero":false},
"axis":{"orient":"bottom","offset":-522,"zindex":1,"values":[0.2,0.4,0.6,0.8,1,1.2,1.4,1.6,1.8,2,2.2,2.4,2.6,2.8],"tickSize":-4,"tickWidth":1.2,"tickColor":"black","domain":false,"grid":false,"labels":false,"title":null}}}},
{"data":{"name":"one"},"mark":{"type":"point","opacity":0},"encoding":{"x":{"datum":0,"type":"quantitative","scale":{"domain":[-10.8333,3.2381],"nice":false,"zero":false},
"axis":{"orient":"bottom","offset":-492.3,"zindex":1,"values":[0.2,0.4,0.6,0.8,1,1.2,1.4,1.6,1.8,2,2.2,2.4,2.6,2.8],"tickSize":-4,"tickWidth":1.2,"tickColor":"black","domain":false,"grid":false,"labels":false,"title":null}}}},
{"data":{"name":"one"},"mark":{"type":"point","opacity":0},"encoding":{"x":{"datum":0,"type":"quantitative","scale":{"domain":[-10.8333,3.2381],"nice":false,"zero":false},
"axis":{"orient":"bottom","offset":-463.7,"zindex":1,"values":[0.2,0.4,0.6,0.8,1,1.2,1.4,1.6,1.8,2,2.2,2.4,2.6,2.8],"tickSize":-4,"tickWidth":1.2,"tickColor":"black","domain":false,"grid":false,"labels":false,"title":null}}}},
{"data":{"name":"one"},"mark":{"type":"point","opacity":0},"encoding":{"x":{"datum":0,"type":"quantitative","scale":{"domain":[-10.8333,3.2381],"nice":false,"zero":false},
"axis":{"orient":"bottom","offset":-434.8,"zindex":1,"values":[0.2,0.4,0.6,0.8,1,1.2,1.4,1.6,1.8,2,2.2,2.4,2.6,2.8],"tickSize":-4,"tickWidth":1.2,"tickColor":"black","domain":false,"grid":false,"labels":false,"title":null}}}},
{"data":{"name":"one"},"mark":{"type":"point","opacity":0},"encoding":{"x":{"datum":0,"type":"quantitative","scale":{"domain":[-10.8333,3.2381],"nice":false,"zero":false},
"axis":{"orient":"bottom","offset":-376.3,"zindex":1,"values":[0.2,0.4,0.6,0.8,1,1.2,1.4,1.6,1.8,2,2.2,2.4,2.6,2.8],"tickSize":-4,"tickWidth":1.2,"tickColor":"black","domain":false,"grid":false,"labels":false,"title":null}}}},
{"data":{"name":"one"},"mark":{"type":"point","opacity":0},"encoding":{"x":{"datum":0,"type":"quantitative","scale":{"domain":[-10.8333,3.2381],"nice":false,"zero":false},
"axis":{"orient":"bottom","offset":-347,"zindex":1,"values":[0.2,0.4,0.6,0.8,1,1.2,1.4,1.6,1.8,2,2.2,2.4,2.6,2.8],"tickSize":-4,"tickWidth":1.2,"tickColor":"black","domain":false,"grid":false,"labels":false,"title":null}}}},
{"data":{"name":"one"},"mark":{"type":"point","opacity":0},"encoding":{"x":{"datum":0,"type":"quantitative","scale":{"domain":[-10.8333,3.2381],"nice":false,"zero":false},
"axis":{"orient":"bottom","offset":-317.5,"zindex":1,"values":[0.2,0.4,0.6,0.8,1,1.2,1.4,1.6,1.8,2,2.2,2.4,2.6,2.8],"tickSize":-4,"tickWidth":1.2,"tickColor":"black","domain":false,"grid":false,"labels":false,"title":null}}}},
{"data":{"name":"one"},"mark":{"type":"point","opacity":0},"encoding":{"x":{"datum":0,"type":"quantitative","scale":{"domain":[-10.8333,3.2381],"nice":false,"zero":false},
"axis":{"orient":"bottom","offset":-258.7,"zindex":1,"values":[0.2,0.4,0.6,0.8,1,1.2,1.4,1.6,1.8,2,2.2,2.4,2.6,2.8],"tickSize":-4,"tickWidth":1.2,"tickColor":"black","domain":false,"grid":false,"labels":false,"title":null}}}},
{"data":{"name":"one"},"mark":{"type":"point","opacity":0},"encoding":{"x":{"datum":0,"type":"quantitative","scale":{"domain":[-10.8333,3.2381],"nice":false,"zero":false},
"axis":{"orient":"bottom","offset":-229.7,"zindex":1,"values":[0.2,0.4,0.6,0.8,1,1.2,1.4,1.6,1.8,2,2.2,2.4,2.6,2.8],"tickSize":-4,"tickWidth":1.2,"tickColor":"black","domain":false,"grid":false,"labels":false,"title":null}}}},
{"data":{"name":"one"},"mark":{"type":"point","opacity":0},"encoding":{"x":{"datum":0,"type":"quantitative","scale":{"domain":[-10.8333,3.2381],"nice":false,"zero":false},
"axis":{"orient":"bottom","offset":-202,"zindex":1,"values":[0.2,0.4,0.6,0.8,1,1.2,1.4,1.6,1.8,2,2.2,2.4,2.6,2.8],"tickSize":-4,"tickWidth":1.2,"tickColor":"black","domain":false,"grid":false,"labels":false,"title":null}}}}
],
"resolve":{"scale":{"x":"independent","y":"independent"}}
}
